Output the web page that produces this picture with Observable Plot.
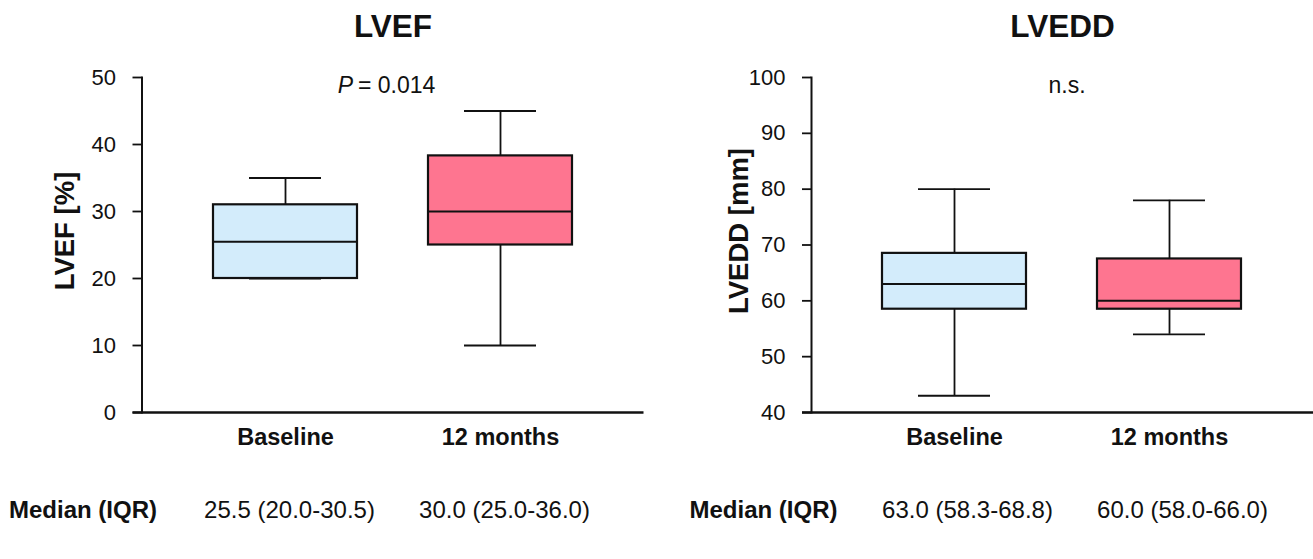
<!DOCTYPE html>
<html>
<head>
<meta charset="utf-8">
<script src="https://cdn.jsdelivr.net/npm/d3@7"></script>
<script src="https://cdn.jsdelivr.net/npm/@observablehq/plot@0.6"></script>
<style>
  html, body { margin: 0; padding: 0; background: #fff; }
  #wrap { display: flex; width: 1313px; height: 559px; overflow: hidden; }
  #wrap svg { display: block; overflow: visible; }
</style>
</head>
<body>
<div id="wrap"></div>
<script>
// ---- data ----
const groups = ["Baseline", "12 months"];

const lvefMin = [20, 10];
const lvefQ1  = [20, 25];
const lvefMed = [25.5, 30];
const lvefQ3  = [31, 38.3];
const lvefMax = [35, 45];
const lvefTicks = [0, 10, 20, 30, 40, 50];
const lvefIqr = ["25.5 (20.0-30.5)", "30.0 (25.0-36.0)"];

const lveddMin = [43, 54];
const lveddQ1  = [58.5, 58.5];
const lveddMed = [63, 60];
const lveddQ3  = [68.5, 67.5];
const lveddMax = [80, 78];
const lveddTicks = [40, 50, 60, 70, 80, 90, 100];
const lveddIqr = ["63.0 (58.3-68.8)", "60.0 (58.0-66.0)"];

const boxColors = ["#d3ecfb", "#fe7590"];
const FONT = "'Liberation Sans', Arial, Helvetica, sans-serif";

function rowsOf(mn, q1, md, q3, mx) {
  return groups.map((g, i) => ({group: g, min: mn[i], q1: q1[i], med: md[i], q3: q3[i], max: mx[i]}));
}

function panel(cfg) {
  const rows = cfg.rows;
  const marks = [
    // whiskers
    Plot.ruleX(rows, {x: "group", y1: "q3", y2: "max", stroke: "#111", strokeWidth: 1.8}),
    Plot.ruleX(rows, {x: "group", y1: "min", y2: "q1", stroke: "#111", strokeWidth: 1.8}),
    Plot.tickY(rows, {x: "group", y: "max", stroke: "#111", strokeWidth: 1.8, insetLeft: 36, insetRight: 36}),
    Plot.tickY(rows, {x: "group", y: "min", stroke: "#111", strokeWidth: 1.8, insetLeft: 36, insetRight: 36}),
    // boxes
    Plot.barY(rows, {x: "group", y1: "q1", y2: "q3", fill: "group", stroke: "#111", strokeWidth: 2.2}),
    Plot.tickY(rows, {x: "group", y: "med", stroke: "#111", strokeWidth: 2}),
    // axes
    Plot.axisY({ticks: cfg.ticks, tickSize: 9, tickPadding: 17, fontSize: 22, label: null, strokeWidth: 1.8}),
    Plot.axisX({tickSize: 0, tickPadding: 16, fontSize: 23.5, fontWeight: "bold", label: null}),
    Plot.frame({anchor: "left", stroke: "#111", strokeWidth: 2}),
    Plot.ruleY([cfg.domain[0]], {stroke: "#111", strokeWidth: 2.6, insetLeft: -9, insetRight: cfg.axisExtendRight}),
    // title
    Plot.text([cfg.title], {text: d => d, frameAnchor: "top", lineAnchor: "bottom", dy: -41, fontSize: 31.5, fontWeight: "bold"}),
    // y label
    Plot.text([cfg.yLabel], {text: d => d, frameAnchor: "left", rotate: -90, textAnchor: "middle", lineAnchor: "middle",
      dx: cfg.yLabelDx, dy: -14, fontSize: 27.5, fontWeight: "bold"}),
    // median (IQR) row
    Plot.text(["Median (IQR)"], {text: d => d, frameAnchor: "bottom-left", textAnchor: "start", lineAnchor: "bottom",
      dx: cfg.medLabelDx, dy: 105, fontSize: 24, fontWeight: "bold"}),
    Plot.text(groups, {x: d => d, text: (d, i) => cfg.iqr[i], frameAnchor: "bottom", lineAnchor: "bottom",
      dx: cfg.iqrDx, dy: 105, fontSize: 24})
  ];
  cfg.stat.forEach(s => marks.push(
    Plot.text([s.text], {text: d => d, frameAnchor: "top", lineAnchor: "bottom", textAnchor: s.anchor,
      dx: s.dx, dy: 15.7, fontSize: 23, fontStyle: s.italic ? "italic" : "normal"})
  ));
  return Plot.plot({
    width: cfg.width,
    height: 559,
    marginLeft: cfg.marginLeft,
    marginRight: cfg.marginRight,
    marginTop: 77,
    marginBottom: 147,
    style: {fontFamily: FONT, background: "white", color: "#111", overflow: "visible"},
    x: {domain: groups, padding: 0.33},
    y: {domain: cfg.domain},
    color: {domain: groups, range: boxColors},
    marks
  });
}

const wrap = document.getElementById("wrap");
wrap.appendChild(panel({
  rows: rowsOf(lvefMin, lvefQ1, lvefMed, lvefQ3, lvefMax),
  ticks: lvefTicks, domain: [0, 50], iqr: lvefIqr,
  title: "LVEF", yLabel: "LVEF [%]",
  width: 669, marginLeft: 141.5, marginRight: 25.5, axisExtendRight: 0,
  yLabelDx: -77, medLabelDx: -133, iqrDx: 4,
  stat: [{text: "P", anchor: "end", dx: -40, italic: true}, {text: "= 0.014", anchor: "start", dx: -35}]
}));
wrap.appendChild(panel({
  rows: rowsOf(lveddMin, lveddQ1, lveddMed, lveddQ3, lveddMax),
  ticks: lveddTicks, domain: [40, 100], iqr: lveddIqr,
  title: "LVEDD", yLabel: "LVEDD [mm]",
  width: 644, marginLeft: 142, marginRight: 0, axisExtendRight: 0,
  yLabelDx: -72, medLabelDx: -122, iqrDx: 13,
  stat: [{text: "n.s.", anchor: "middle", dx: 4.5}]
}));
</script>
</body>
</html>
